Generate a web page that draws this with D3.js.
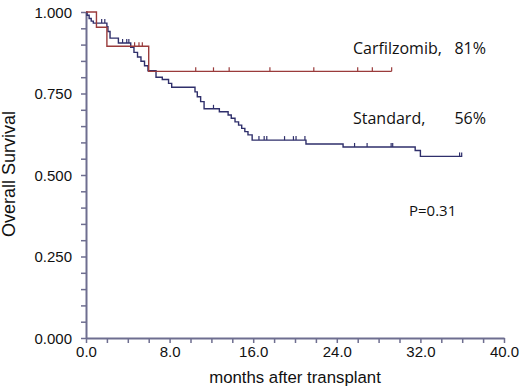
<!DOCTYPE html>
<html>
<head>
    <script src="https://d3js.org/d3.v7.min.js"></script>
    <style>
        body { margin: 0; background: #fff; }
    </style>
</head>
<body>
    <svg width="520" height="390" id="mainSvg"></svg>
    <script>
        // Carfilzomib arm: step times (months) and survival after each step
        const carfTimes = [0, 1.0, 2.0, 6.0, 29.25];
        const carfSurv = [1.0, 0.953, 0.895, 0.818, 0.818];
        const carfCensor = [4.65, 5.07, 5.39, 10.5, 12.2, 13.7, 17.6, 21.8, 26.0, 27.4, 29.25];

        // Standard arm
        const stdTimes = [0, 0.1, 0.3, 0.5, 0.7, 2.0, 2.1, 2.3, 3.1, 4.28, 4.59, 4.93, 5.26, 5.6, 5.93,
            6.7, 7.3, 7.9, 8.2, 10.43, 10.65, 10.97, 11.3, 12.76, 13.6, 13.9, 14.26, 14.6, 14.9, 15.2,
            15.5, 15.9, 21.05, 24.6, 31.5, 32.0, 36.0];
        const stdSurv = [1.0, 0.99, 0.98, 0.972, 0.966, 0.955, 0.94, 0.92, 0.905, 0.892, 0.876, 0.862,
            0.849, 0.835, 0.82, 0.80, 0.793, 0.781, 0.769, 0.755, 0.74, 0.725, 0.703, 0.694, 0.684, 0.674,
            0.663, 0.653, 0.643, 0.633, 0.623, 0.607, 0.595, 0.586, 0.575, 0.557, 0.557];
        const stdCensor = [1.5, 1.8, 3.5, 3.9, 4.1, 12.2, 16.55, 17.05, 17.3, 19.0, 19.85, 20.1, 20.95,
            25.7, 26.9, 29.2, 29.35, 35.75, 35.95];

        const xTicks = d3.range(0, 40.01, 2);
        const yTicks = d3.range(0, 1.0001, 0.05);
        const xLabels = [0, 8, 16, 24, 32, 40];
        const yLabels = [0, 0.25, 0.5, 0.75, 1.0];

        const svg = d3.select('#mainSvg');
        const margin = { top: 12, right: 16, bottom: 52, left: 86 };
        const innerW = 504 - margin.left;
        const innerH = 338 - margin.top;
        const g = svg.append('g').attr('transform', `translate(${margin.left},${margin.top})`);

        const x = d3.scaleLinear().domain([0, 40]).range([0, innerW]);
        const y = d3.scaleLinear().domain([0, 1]).range([innerH, 0]);

        const axisColor = '#6e6e90';
        const font = '"Liberation Sans", Arial, sans-serif';

        const xAxis = d3.axisBottom(x).tickValues(xTicks).tickSize(5).tickSizeOuter(0)
            .tickFormat(d => xLabels.some(v => Math.abs(v - d) < 1e-6) ? d3.format('.1f')(d) : '');
        const yAxis = d3.axisLeft(y).tickValues(yTicks).tickSize(5).tickSizeOuter(0)
            .tickFormat(d => yLabels.some(v => Math.abs(v - d) < 1e-6) ? d3.format('.3f')(d) : '');

        const xg = g.append('g').attr('transform', `translate(0,${innerH})`).call(xAxis);
        const yg = g.append('g').call(yAxis);
        [xg, yg].forEach(a => {
            a.select('.domain').attr('stroke', axisColor).attr('stroke-width', 2);
            a.selectAll('.tick line').attr('stroke', axisColor).attr('stroke-width', 1.5);
            a.selectAll('.tick text').attr('fill', '#111').style('font-family', font).style('font-size', '15px');
        });
        yg.selectAll('.tick text').attr('x', -14).attr('dy', '0.35em');

        // axis titles
        svg.append('text')
            .attr('transform', `translate(15,174) rotate(-90)`)
            .attr('text-anchor', 'middle')
            .style('font-family', font).style('font-size', '18px').attr('fill', '#111')
            .text('Overall Survival');
        svg.append('text')
            .attr('x', margin.left + innerW / 2).attr('y', 383)
            .attr('text-anchor', 'middle')
            .style('font-family', font).style('font-size', '16.8px').attr('fill', '#111')
            .text('months after transplant');

        function drawArm(times, surv, censor, color) {
            const pts = times.map((t, i) => [t, surv[i]]);
            const line = d3.line().x(d => x(d[0])).y(d => y(d[1])).curve(d3.curveStepAfter);
            g.append('path').datum(pts)
                .attr('fill', 'none').attr('stroke', color).attr('stroke-width', 1.4)
                .attr('d', line);
            const bis = d3.bisector(d => d).right;
            g.selectAll(null).data(censor).enter().append('line')
                .attr('x1', d => x(d)).attr('x2', d => x(d))
                .attr('y1', d => y(surv[Math.max(0, bis(times, d) - 1)]))
                .attr('y2', d => y(surv[Math.max(0, bis(times, d) - 1)]) - 4)
                .attr('stroke', color).attr('stroke-width', 1.2);
        }

        drawArm(stdTimes, stdSurv, stdCensor, '#2f2f6b');
        drawArm(carfTimes, carfSurv, carfCensor, '#9a3b3b');

        // annotations
        const annFont = '"Open Sans", "Noto Sans", sans-serif';
        const ann = [
            { t: 'Carfilzomib,', v: '81%', y: 54 },
            { t: 'Standard,', v: '56%', y: 124 }
        ];
        ann.forEach(a => {
            svg.append('text').attr('x', 353).attr('y', a.y)
                .style('font-family', annFont).style('font-size', '16px').attr('fill', '#111').text(a.t);
            svg.append('text').attr('x', 486).attr('y', a.y).attr('text-anchor', 'end')
                .style('font-family', annFont).style('font-size', '16px').attr('fill', '#111').text(a.v);
        });
        svg.append('text').attr('x', 409).attr('y', 216)
            .style('font-family', annFont).style('font-size', '15px').attr('fill', '#111').text('P=0.31');
    </script>
</body>
</html>
